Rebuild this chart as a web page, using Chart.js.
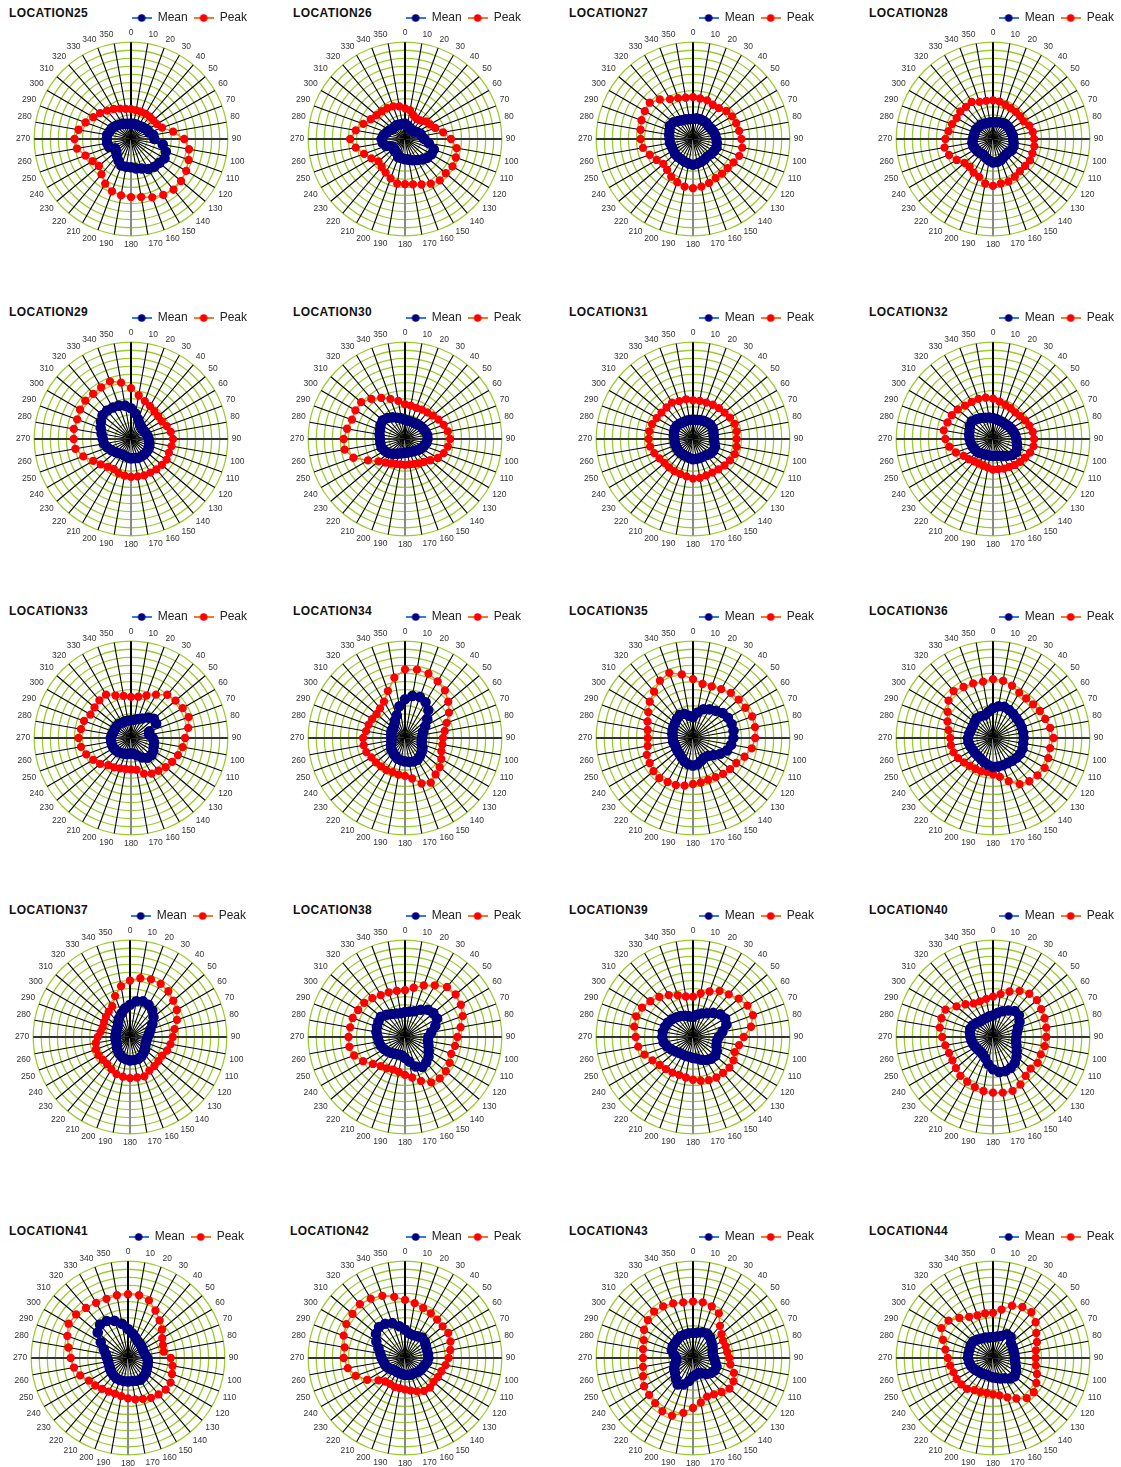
<!DOCTYPE html>
<html>
<head>
<meta charset="utf-8">
<script src="https://cdn.jsdelivr.net/npm/chart.js@4.4.1/dist/chart.umd.min.js"></script>
<style>
  body { margin: 0; background: #fff; width: 1121px; height: 1467px; position: relative; overflow: hidden; }
  canvas { position: absolute; }
  .ttl { position: absolute; font: bold 12px "Liberation Sans", Arial, sans-serif; letter-spacing: 0.4px; color: #111; line-height: 14px; }
</style>
</head>
<body>
<script>
// direction labels
var dirs = ['0','10','20','30','40','50','60','70','80','90','100','110','120','130','140','150','160','170',
            '180','190','200','210','220','230','240','250','260','270','280','290','300','310','320','330','340','350'];

var mean25 = [1.9,1.9,1.9,1.9,2.0,2.1,2.3,2.4,2.8,2.9,4.0,4.6,4.8,4.6,4.5,4.3,3.9,3.7,3.5,3.5,3.5,3.1,2.7,2.4,2.3,2.9,3.0,3.0,3.0,2.8,2.7,2.5,2.3,2.2,2.0,1.9];
var peak25 = [3.7,3.6,3.6,3.6,3.6,3.6,3.7,4.1,5.3,6.6,7.3,7.6,7.9,8.1,8.2,8.0,7.7,7.3,7.2,7.1,6.9,6.4,5.7,5.2,5.5,6.0,6.8,7.0,6.6,6.0,5.4,5.0,4.6,4.3,4.0,3.8];
var mean26 = [1.9,1.7,1.5,1.4,1.4,1.5,1.7,2.0,2.1,2.4,3.0,3.8,3.8,3.6,3.3,3.0,2.8,2.6,2.5,2.4,2.4,2.0,2.0,1.8,1.9,2.5,2.8,2.9,2.7,2.4,2.2,2.0,2.0,2.0,1.9,1.9];
var peak26 = [3.8,3.6,3.1,2.9,3.0,3.4,3.6,4.0,4.8,5.7,6.5,6.7,6.8,6.6,6.7,6.4,6.0,5.7,5.6,5.6,5.2,4.8,4.5,4.3,4.8,5.4,6.2,6.8,6.2,5.5,4.9,4.6,4.5,4.4,4.3,4.1];
var mean27 = [2.5,2.6,2.6,2.6,2.6,2.5,2.6,2.7,2.8,2.9,3.0,3.1,3.0,2.9,2.8,2.9,3.0,3.1,3.2,3.1,3.0,2.9,2.9,2.9,2.8,2.8,2.9,2.9,3.0,3.1,3.3,3.2,2.9,2.7,2.6,2.5];
var peak27 = [5.2,5.1,5.1,4.9,5.0,5.4,5.6,5.7,5.8,6.0,6.2,6.1,5.8,5.6,5.6,5.6,5.8,6.0,6.1,6.0,5.7,5.4,5.0,4.8,5.2,5.7,6.3,6.5,6.6,6.8,6.9,7.0,6.4,5.7,5.4,5.2];
var mean28 = [2.1,2.1,2.2,2.3,2.4,2.4,2.4,2.4,2.5,2.5,2.6,2.7,2.7,2.5,2.5,2.6,2.8,2.9,2.9,2.7,2.5,2.3,2.3,2.4,2.5,2.6,2.6,2.5,2.4,2.4,2.4,2.3,2.3,2.2,2.1,2.1];
var peak28 = [4.8,4.7,4.5,4.4,4.4,4.4,4.4,4.8,5.0,5.1,5.2,5.2,5.3,5.2,5.2,5.4,5.6,5.6,5.8,5.6,5.0,4.8,4.5,4.6,5.2,5.8,6.1,5.9,5.6,5.4,5.2,5.3,5.2,5.3,4.9,4.8];

var mean29 = [3.8,3.2,2.6,2.2,2.0,1.9,1.9,2.0,2.1,2.2,2.3,2.4,2.5,2.5,2.5,2.5,2.5,2.4,2.4,2.3,2.2,2.2,2.3,2.5,2.8,3.1,3.4,3.5,3.7,4.0,4.3,4.6,4.6,4.5,4.4,4.2];
var peak29 = [6.3,5.5,5.0,4.7,4.5,4.4,4.4,4.7,5.0,5.2,5.1,5.0,5.1,5.0,4.9,4.8,4.8,4.7,4.7,4.6,4.5,4.3,4.5,4.9,5.4,6.3,7.0,7.1,7.2,7.1,7.3,7.4,7.3,7.4,7.6,7.1];
var mean30 = [2.4,2.3,2.3,2.3,2.4,2.5,2.6,2.7,2.8,2.8,2.7,2.5,2.3,2.1,1.9,1.8,1.7,1.7,1.7,1.8,1.9,2.1,2.4,2.7,2.9,3.1,3.1,3.1,3.2,3.3,3.5,3.6,3.4,3.1,2.8,2.6];
var peak30 = [4.3,4.2,4.1,4.2,4.3,4.5,4.8,5.1,5.4,5.6,5.4,5.1,4.7,4.1,3.7,3.5,3.3,3.2,3.2,3.2,3.3,3.5,3.8,4.3,5.3,6.8,7.6,7.6,7.3,7.0,7.1,7.1,6.5,5.9,5.3,4.8];
var mean31 = [2.4,2.4,2.5,2.6,2.7,2.8,2.8,2.7,2.6,2.6,2.7,2.9,2.9,2.8,2.6,2.5,2.5,2.5,2.5,2.4,2.3,2.3,2.3,2.3,2.3,2.3,2.3,2.3,2.4,2.5,2.6,2.6,2.5,2.4,2.4,2.4];
var peak31 = [4.8,4.8,4.8,4.9,5.0,5.1,5.3,5.5,5.5,5.4,5.5,5.5,5.3,5.1,4.9,4.8,4.8,4.9,4.9,4.7,4.6,4.6,4.6,4.6,4.8,5.1,5.4,5.5,5.5,5.4,5.2,5.1,5.1,5.2,5.0,5.0];
var mean32 = [2.6,2.5,2.4,2.4,2.4,2.5,2.6,2.7,2.8,2.9,3.0,3.2,3.3,3.1,2.7,2.4,2.2,2.1,2.1,2.1,2.1,2.2,2.3,2.5,2.6,2.7,2.8,2.9,3.0,3.1,3.3,3.4,3.2,3.0,2.8,2.7];
var peak32 = [5.0,4.7,4.5,4.4,4.3,4.4,4.6,4.8,5.0,5.1,5.1,4.9,4.6,4.4,4.2,4.0,3.9,3.8,3.8,3.6,3.5,3.5,3.6,3.9,4.2,4.9,5.5,5.9,6.2,6.0,5.9,5.7,5.4,5.3,5.3,5.2];

var mean33 = [2.2,2.3,2.5,2.8,3.3,3.7,3.6,2.4,2.3,2.7,2.9,3.0,3.2,3.3,3.2,2.8,2.3,2.0,1.9,2.0,2.1,2.2,2.3,2.4,2.5,2.5,2.5,2.5,2.4,2.3,2.3,2.3,2.3,2.2,2.2,2.2];
var peak33 = [5.1,5.2,5.6,6.2,7.0,7.2,7.4,7.6,7.2,6.7,6.5,6.2,5.9,5.6,5.3,5.1,4.7,4.0,3.9,3.9,4.0,4.2,4.4,5.0,5.4,5.9,6.3,6.5,6.3,6.2,5.8,5.9,6.1,6.2,5.6,5.3];
var mean34 = [4.8,5.3,5.4,5.1,4.5,3.6,2.9,2.4,2.2,2.1,2.1,2.2,2.5,2.7,2.9,3.1,3.1,3.0,2.9,2.8,2.7,2.5,2.3,2.2,2.0,1.8,1.7,1.7,1.7,1.8,1.9,1.9,2.1,2.5,3.0,4.0];
var peak34 = [8.5,8.6,8.5,8.1,7.7,7.0,6.3,5.5,5.0,4.7,4.7,4.8,5.2,5.6,5.9,6.4,6.0,5.1,4.7,4.6,4.5,4.6,4.6,4.7,4.8,5.1,5.2,5.2,4.9,4.8,4.7,4.6,4.8,5.2,6.2,7.6];
var mean35 = [2.6,3.2,3.8,4.1,4.4,4.8,5.0,5.1,5.1,5.0,4.8,4.5,3.9,3.3,2.9,2.8,3.0,3.3,3.4,3.3,3.1,2.8,2.6,2.5,2.4,2.4,2.5,2.5,2.6,2.7,2.8,2.9,3.1,3.3,3.2,2.8];
var peak35 = [7.3,6.8,6.8,7.0,7.3,7.4,7.5,7.8,7.8,7.7,7.4,6.8,6.2,6.0,5.8,5.6,5.5,5.6,5.7,6.0,6.2,6.3,6.5,6.4,6.2,6.1,5.7,5.6,5.7,6.0,6.4,7.0,7.5,8.2,8.6,8.0];
var mean36 = [3.7,4.0,4.1,4.0,3.9,3.8,3.8,3.8,3.8,3.8,3.8,3.9,3.9,3.8,3.7,3.6,3.6,3.6,3.6,3.4,3.2,3.0,2.9,2.9,2.9,3.0,3.1,3.1,3.0,2.9,2.9,3.0,3.2,3.1,3.0,3.3];
var peak36 = [7.3,7.2,6.9,6.5,6.4,6.5,6.7,6.9,7.2,7.5,7.2,7.3,7.4,7.2,7.0,6.6,5.7,4.9,4.5,4.3,4.4,4.4,4.5,4.7,5.0,5.2,5.3,5.3,5.6,6.0,6.5,7.2,7.6,7.3,7.2,7.1];

var mean37 = [4.0,4.5,4.7,4.6,4.3,3.8,3.2,2.7,2.4,2.2,2.1,2.1,2.2,2.4,2.6,2.8,2.9,2.9,2.9,2.8,2.7,2.5,2.3,2.1,1.9,1.8,1.8,1.8,1.8,1.8,1.9,2.0,2.3,2.7,3.1,3.6];
var peak37 = [7.0,7.4,7.6,7.6,7.4,7.0,6.7,6.2,5.6,5.3,5.1,4.9,4.6,4.6,4.7,4.8,5.2,5.1,5.1,5.0,4.9,4.6,4.4,4.4,4.5,4.5,4.3,4.0,3.7,3.6,3.7,3.9,4.1,4.4,5.4,6.4];
var mean38 = [3.1,3.2,3.4,3.9,4.4,4.6,4.6,4.0,3.3,2.9,2.9,3.1,3.4,3.8,4.1,4.3,3.9,3.1,2.6,2.3,2.3,2.4,2.6,2.8,3.0,3.2,3.3,3.4,3.6,3.7,3.8,3.9,3.6,3.3,3.1,3.0];
var peak38 = [5.8,6.2,6.8,7.4,8.1,8.2,8.0,7.6,7.0,6.5,6.3,6.1,6.4,6.6,6.7,6.5,5.8,5.1,4.7,4.4,4.3,4.5,4.7,5.2,6.0,6.7,7.0,7.0,6.9,6.9,6.7,6.6,6.3,6.0,5.9,5.8];
var mean39 = [2.5,2.8,3.1,3.4,3.9,4.4,4.6,4.4,3.7,3.2,3.0,3.1,3.4,3.6,3.5,3.3,3.0,2.7,2.6,2.5,2.5,2.5,2.6,2.8,3.1,3.4,3.7,3.8,3.8,3.7,3.6,3.4,3.2,3.0,2.8,2.6];
var peak39 = [5.0,5.5,6.0,6.6,6.9,7.4,7.8,7.9,7.3,6.3,5.8,5.5,5.8,5.9,5.8,5.8,5.7,5.5,5.3,5.1,5.0,5.1,5.2,5.4,5.8,6.4,6.9,7.1,7.4,7.5,7.3,6.9,6.5,6.0,5.5,5.1];
var mean40 = [2.7,3.0,3.4,3.8,4.2,4.2,3.8,3.3,3.0,2.9,2.9,3.1,3.4,3.8,4.2,4.4,4.5,4.4,4.0,3.4,2.8,2.5,2.4,2.4,2.5,2.6,2.7,2.8,2.9,3.0,2.9,2.7,2.5,2.5,2.5,2.6];
var peak40 = [5.0,5.4,6.0,6.6,7.0,7.1,6.9,6.8,6.7,6.6,6.5,6.3,6.4,6.1,6.3,6.8,7.1,7.0,6.9,6.8,6.6,6.4,6.3,6.0,5.8,5.8,6.0,6.3,6.7,6.8,6.8,5.9,5.3,4.8,4.7,4.8];

var mean41 = [3.6,3.1,2.7,2.4,2.3,2.2,2.1,2.1,2.2,2.4,2.5,2.6,2.7,2.9,3.0,3.1,3.0,2.9,2.9,2.9,2.9,2.9,2.8,2.7,2.6,2.5,2.5,2.6,2.8,3.2,3.9,4.9,5.4,5.3,4.9,4.3];
var peak41 = [7.9,7.9,7.6,6.8,6.1,5.5,4.9,4.6,4.5,5.3,5.6,5.8,6.1,6.1,5.9,5.7,5.4,5.2,5.0,4.8,4.7,4.8,5.0,5.3,5.6,6.3,6.8,7.1,7.5,8.0,8.5,8.4,8.1,7.9,7.8,7.9];
var mean42 = [3.5,3.1,3.0,3.1,3.3,3.2,3.0,2.9,2.9,2.9,2.8,2.6,2.5,2.4,2.3,2.2,2.2,2.1,2.1,2.0,2.0,2.0,2.0,2.2,2.4,2.6,2.7,2.9,3.1,3.5,4.1,4.7,5.0,4.9,4.6,4.0];
var peak42 = [7.2,6.9,6.6,6.4,6.2,6.1,6.2,6.0,5.7,5.4,5.1,4.8,4.7,4.6,4.8,4.7,4.4,4.1,3.9,3.8,3.8,3.7,3.8,4.3,5.4,6.5,7.2,7.6,7.6,8.1,8.4,8.5,8.7,8.5,8.2,7.7];
var mean43 = [3.1,3.2,3.4,3.5,3.3,3.0,2.8,2.6,2.5,2.6,2.8,3.1,3.1,2.9,2.6,2.2,2.0,2.1,2.3,2.9,3.5,3.8,3.3,2.9,2.7,2.4,2.1,2.1,2.4,2.8,2.9,2.9,3.0,3.1,3.1,3.1];
var peak43 = [7.0,7.0,6.8,6.4,5.2,4.6,4.3,4.3,4.3,4.5,4.7,5.4,5.8,5.9,5.5,5.2,5.1,5.6,6.2,6.9,7.6,7.6,7.3,7.1,7.0,6.6,6.3,6.2,6.3,6.5,7.0,7.3,7.5,7.4,7.2,7.0];
var mean44 = [2.6,2.7,2.9,3.4,3.4,2.9,2.8,2.7,2.7,2.7,2.8,3.0,3.3,3.5,3.3,2.9,2.7,2.5,2.4,2.3,2.2,2.3,2.4,2.5,2.7,2.9,3.0,3.1,3.1,3.1,3.2,3.2,3.0,2.8,2.7,2.6];
var peak44 = [5.6,6.1,6.9,7.3,7.4,6.9,6.2,5.8,5.4,5.3,5.4,5.8,6.2,6.6,6.5,5.8,5.2,4.7,4.5,4.4,4.5,4.6,5.0,5.1,5.2,5.2,5.4,5.6,6.0,6.6,7.4,7.2,6.5,5.9,5.6,5.6];

var names = ['LOCATION25','LOCATION26','LOCATION27','LOCATION28','LOCATION29','LOCATION30','LOCATION31','LOCATION32',
             'LOCATION33','LOCATION34','LOCATION35','LOCATION36','LOCATION37','LOCATION38','LOCATION39','LOCATION40',
             'LOCATION41','LOCATION42','LOCATION43','LOCATION44'];
var means = [mean25,mean26,mean27,mean28,mean29,mean30,mean31,mean32,mean33,mean34,mean35,mean36,mean37,mean38,mean39,mean40,mean41,mean42,mean43,mean44];
var peaks = [peak25,peak26,peak27,peak28,peak29,peak30,peak31,peak32,peak33,peak34,peak35,peak36,peak37,peak38,peak39,peak40,peak41,peak42,peak43,peak44];

// layout of the grid
var colX = [[131,405,693,993],[131,405,693,993],[131,405,693,993],[130,405,693,993],[128,405,693,993]];
var rowY = [138,438,737,1036,1357];
var titleX = [9,293,569,869];
var titleY = [6,305,604,903,1224];
var colW = [244,244,254,254];   // canvas width per column (moves the legend)

var H = 245, TOP = 132, LEGEND_H = 22;

function legendIcon(line, dot) {
  var c = document.createElement('canvas');
  c.width = 20; c.height = 10;
  var g = c.getContext('2d');
  g.strokeStyle = line; g.lineWidth = 2;
  g.beginPath(); g.moveTo(0, 5); g.lineTo(20, 5); g.stroke();
  g.fillStyle = dot;
  g.beginPath(); g.arc(10, 5, 3.8, 0, Math.PI * 2); g.fill();
  return c;
}
var iconMean = legendIcon('#2f7fd6', '#000080');
var iconPeak = legendIcon('#f07a2a', '#ff0000');

// keep the legend box short so the radar sits close under it
var shortLegend = {
  id: 'shortLegend',
  beforeInit: function (chart) {
    var fit = chart.legend.fit;
    chart.legend.fit = function () {
      fit.call(this);
      this.height = LEGEND_H;
    };
  }
};

Chart.defaults.font.family = '"Liberation Sans", Arial, sans-serif';
Chart.defaults.color = '#222';

for (var k = 0; k < 20; k++) {
  var r = Math.floor(k / 4), c = k % 4;
  var cx = colX[r][c], cy = rowY[r], W = colW[c];

  var t = document.createElement('div');
  t.className = 'ttl';
  t.style.left = (titleX[c] - (r == 4 && c == 1 ? 3 : 0)) + 'px';
  t.style.top = titleY[r] + 'px';
  t.textContent = names[k];
  document.body.appendChild(t);

  var cv = document.createElement('canvas');
  cv.width = W; cv.height = H;
  cv.style.left = (cx - W / 2) + 'px';
  cv.style.top = (cy - TOP) + 'px';
  document.body.appendChild(cv);

  new Chart(cv, {
    type: 'radar',
    data: {
      labels: dirs,
      datasets: [{
        label: 'Mean',
        data: means[k],
        borderColor: '#2f7fd6',
        backgroundColor: '#000080',
        pointBackgroundColor: '#000080',
        pointBorderColor: '#000080',
        pointRadius: 4.3,
        borderWidth: 2,
        fill: false
      }, {
        label: 'Peak',
        data: peaks[k],
        borderColor: '#f07a2a',
        backgroundColor: '#ff0000',
        pointBackgroundColor: '#ff0000',
        pointBorderColor: '#ff0000',
        pointRadius: 3.4,
        borderWidth: 1.5,
        fill: false
      }]
    },
    plugins: [shortLegend],
    options: {
      responsive: false,
      animation: false,
      devicePixelRatio: 1,
      layout: { padding: 0 },
      plugins: {
        title: { display: false },
        tooltip: { enabled: false },
        legend: {
          position: 'top',
          align: 'end',
          labels: {
            usePointStyle: true,
            pointStyleWidth: 20,
            padding: 6,
            font: { size: 12 },
            color: '#222',
            generateLabels: function (chart) {
              var items = Chart.defaults.plugins.legend.labels.generateLabels(chart);
              items.forEach(function (it, i) {
                it.pointStyle = i === 0 ? iconMean : iconPeak;
                it.rotation = 0;
              });
              return items;
            }
          }
        }
      },
      scales: {
        r: {
          min: 0,
          max: 12,
          ticks: { display: false, stepSize: 1 },
          grid: { circular: true, color: '#9ccc2c', lineWidth: 1.3 },
          angleLines: {
            color: function (ctx) { return ctx.index === 18 ? '#888' : (ctx.index === 9 || ctx.index === 27 ? '#333' : '#000'); },
            lineWidth: function (ctx) { return (ctx.index % 9 === 0) ? 2 : 1.1; }
          },
          pointLabels: { font: { size: 8.5 }, color: '#333', padding: 4 }
        }
      }
    }
  });
}
</script>
</body>
</html>
